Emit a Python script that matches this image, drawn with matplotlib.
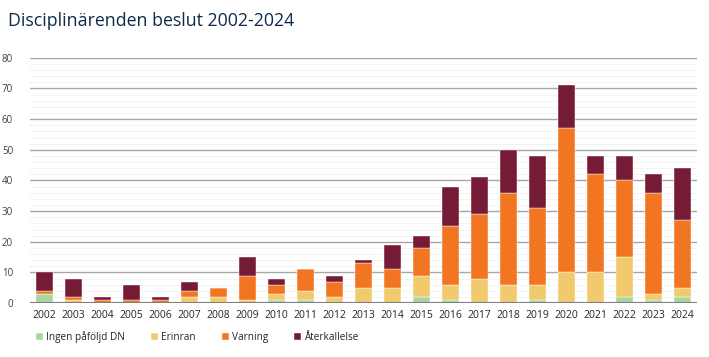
import matplotlib
matplotlib.use("Agg")
import matplotlib.pyplot as plt
import numpy as np

# ── data ───────────────────────────────────────────────────────────────
years = [str(y) for y in range(2002, 2025)]
ingen_pafoljd = [3, 0, 0, 0, 0, 0, 0, 0, 1, 1, 0, 0, 0, 2, 1, 0, 0, 1, 0, 0, 2, 1, 2]
erinran       = [0, 1, 0, 0, 0, 2, 2, 1, 2, 3, 2, 5, 5, 7, 5, 8, 6, 5, 10, 10, 13, 2, 3]
varning       = [1, 1, 1, 1, 1, 2, 3, 8, 3, 7, 5, 8, 6, 9, 19, 21, 30, 25, 47, 32, 25, 33, 22]
aterkallelse  = [6, 6, 1, 5, 1, 3, 0, 6, 2, 0, 2, 1, 8, 4, 13, 12, 14, 17, 14, 6, 8, 6, 17]

series = [
    ("Ingen påföljd DN", ingen_pafoljd, "#a9d5a0"),
    ("Erinran",          erinran,       "#f0ca6d"),
    ("Varning",          varning,       "#f27522"),
    ("Återkallelse",     aterkallelse,  "#761b35"),
]

plt.rcParams.update({
    "font.family": ["Open Sans", "DejaVu Sans"],
})

# ── figure ─────────────────────────────────────────────────────────────
fig = plt.figure(figsize=(7.09, 3.57), dpi=100)
ax = fig.add_axes([0.042, 0.151, 0.941, 0.687])

x = np.arange(len(years))
bottom = np.zeros(len(years))
for label, vals, color in series:
    vals = np.array(vals, dtype=float)
    ax.bar(x, vals, width=0.6, bottom=bottom, color=color, label=label,
           edgecolor="white", linewidth=0.3, zorder=3)
    bottom += vals

ax.set_xlim(-0.5, 22.5)
ax.set_ylim(0, 80)
ax.set_yticks(range(0, 81, 10))
ax.set_yticks(range(0, 81, 2), minor=True)
ax.set_xticks(x)
ax.set_xticklabels(years)

ax.grid(axis="y", which="major", color="#a6a6a6", lw=1.0, zorder=0)
ax.grid(axis="y", which="minor", color="#f3f3f3", lw=0.6, zorder=0)
ax.axhline(0, color="#7f7f7f", lw=1.5, zorder=4)

for s in ax.spines.values():
    s.set_visible(False)
ax.tick_params(axis="y", which="both", length=0, labelsize=7, colors="#404040", pad=12)
ax.tick_params(axis="x", length=0, labelsize=7.5, colors="#262626", pad=5)

fig.text(0.011, 0.940, "Disciplinärenden beslut 2002-2024", fontsize=12.8,
         color="#0f2a4a", ha="left", va="center")

ax.legend(loc="upper left", bbox_to_anchor=(-0.004, -0.078), ncol=4, frameon=False,
          fontsize=7.2, handlelength=0.7, handleheight=0.7, handletextpad=0.3,
          columnspacing=2.6, labelcolor="#262626")

fig.savefig("out.png", dpi=100)
